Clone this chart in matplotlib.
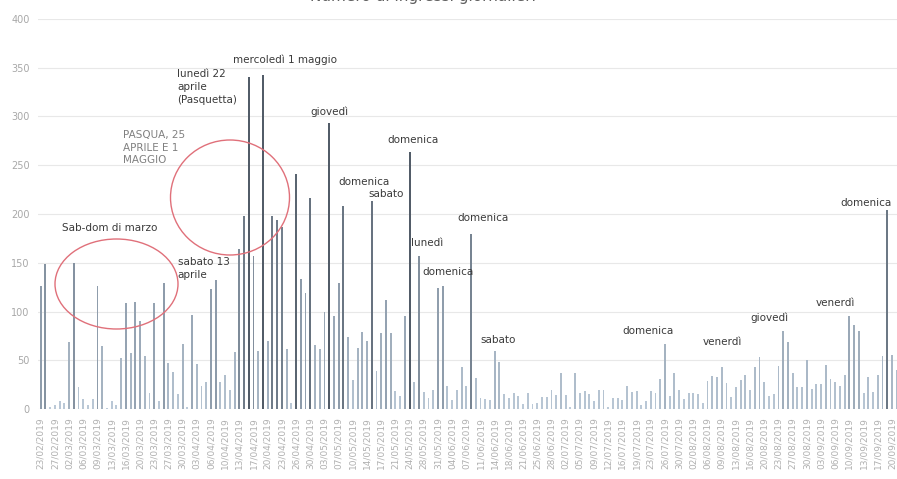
import pandas as pd
import matplotlib.pyplot as plt
import numpy as np
from matplotlib.patches import Ellipse
from matplotlib.colors import LinearSegmentedColormap

# ingressi giornalieri (musei chiusi il lunedi, tranne Pasquetta)
ingressi = [126, 149, 2, 4, 8, 6, 69, 150, 23, 10, 4, 10, 126, 65, 1, 8, 4, 52, 109, 57,
            110, 90, 54, 16, 109, 8, 129, 47, 38, 15, 67, 2, 96, 46, 24, 28, 123, 132, 28, 35,
            20, 58, 164, 198, 340, 157, 60, 343, 70, 198, 194, 187, 62, 6, 241, 133, 119, 216, 66, 62,
            100, 293, 95, 129, 208, 74, 30, 63, 79, 70, 213, 39, 78, 112, 78, 18, 13, 95, 264, 28,
            157, 17, 11, 20, 124, 126, 24, 9, 20, 43, 24, 179, 32, 11, 10, 9, 59, 48, 15, 11,
            16, 13, 5, 16, 5, 6, 12, 12, 19, 14, 37, 14, 2, 37, 16, 18, 15, 8, 20, 20,
            2, 11, 11, 9, 24, 17, 18, 4, 8, 18, 16, 31, 67, 13, 37, 19, 10, 16, 16, 15,
            6, 29, 34, 33, 43, 27, 12, 23, 30, 35, 19, 43, 53, 28, 13, 15, 44, 80, 69, 37,
            23, 23, 50, 21, 26, 26, 45, 31, 28, 24, 35, 95, 86, 80, 16, 33, 17, 35, 54, 204,
            55, 40]

# giorni di apertura
giorni = pd.date_range('2019-02-23', '2019-10-31', freq='D')
giorni = [g for g in giorni if g.dayofweek != 0 or g == pd.Timestamp('2019-04-22')]
giorni = giorni[:len(ingressi)]
etichette = [g.strftime('%d/%m/%Y') for g in giorni]

# note sui picchi: (testo, posizione x in giorni, y)
note = [
    ('mercoledì 1 maggio', 40.7, 358),
    ('lunedì 22\naprile\n(Pasquetta)', 28.8, 330),
    ('giovedì', 57.0, 305),
    ('domenica', 73.4, 276),
    ('domenica', 62.9, 233),
    ('sabato', 69.2, 220),
    ('Sab-dom di marzo', 4.5, 186),
    ('sabato 13\naprile', 29.0, 144),
    ('lunedì', 78.3, 170),
    ('domenica', 80.6, 141),
    ('domenica', 88.2, 196),
    ('sabato', 92.9, 71),
    ('domenica', 122.9, 80),
    ('venerdì', 140.0, 69),
    ('giovedì', 150.0, 94),
    ('venerdì', 163.9, 109),
    ('domenica', 169.0, 211),
]

W, H = 897, 479
fig = plt.figure(figsize=(W / 100, H / 100), dpi=100)

n = len(ingressi)
passo = (896.7 - 40.7) / (n - 1)
left_px = 40.7 - 0.6 * passo
ax = fig.add_axes([left_px / W, (H - 409) / H, (n - 1 + 1.2) * passo / W, 390 / H])

x = np.arange(n)
cmap = LinearSegmentedColormap.from_list('grigi', ['#bccad8', '#8e9cab', '#525c68'])
colori = cmap(np.clip(np.array(ingressi) / 260, 0, 1))
ax.bar(x, ingressi, width=0.4, color=colori, zorder=2)

ax.set_xlim(-0.6, n - 1 + 0.6)
ax.set_ylim(0, 400)
ax.set_yticks(range(0, 401, 50))
ax.set_xticks(x[::3])
ax.set_xticklabels(etichette[::3], rotation=90)
ax.tick_params(axis='y', length=0, pad=6, labelsize=7, labelcolor='#a8a8a8')
ax.tick_params(axis='x', length=0, pad=6, labelsize=6.5, labelcolor='#b0b0b0')
ax.grid(axis='y', color='#e8e8e8', linewidth=0.8, zorder=0)
for s in ax.spines.values():
    s.set_visible(False)

for testo, nx, ny in note:
    ax.text(nx, ny, testo, fontsize=7.5, color='#3a3a3a', ha='left', va='center',
            linespacing=1.35, zorder=3)
ax.text(17.4, 268, 'PASQUA, 25\nAPRILE E 1\nMAGGIO', fontsize=7.5, color='#808080',
        ha='left', va='center', linespacing=1.35, zorder=3)

# cerchi rossi
for cx, cy, w, h in [(230, 197.5, 119, 115), (116.5, 284, 123, 90)]:
    fig.add_artist(Ellipse((cx / W, 1 - cy / H), w / W, h / H, transform=fig.transFigure,
                           fill=False, edgecolor='#e0707a', linewidth=1.0))

# titolo, tagliato in alto
fig.text(423 / W, 1.0 + 4 / H, 'Numero di ingressi giornalieri', fontsize=11, color='#606060',
         ha='center', va='center')

fig.savefig('out.png', dpi=100)
